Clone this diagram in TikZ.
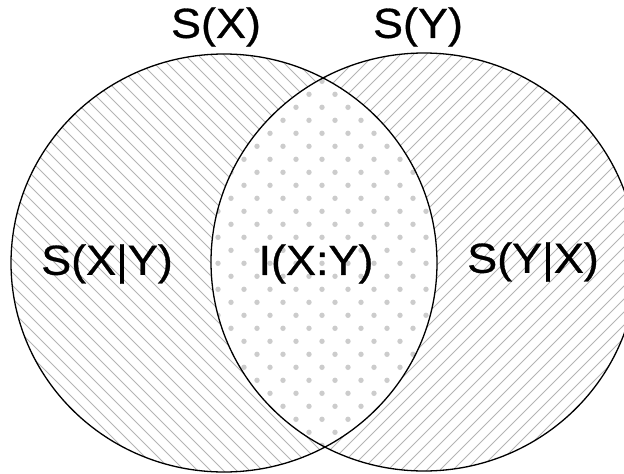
\documentclass[tikz,border=0pt]{standalone}
\usepackage{fontspec}
\setmainfont{Liberation Sans}
\newfontfamily\vennfont{Liberation Sans}[FakeBold=0.7]
\usepackage{tikz}
\definecolor{hatchgray}{RGB}{180,180,180}
\definecolor{dotgray}{RGB}{204,204,204}

\begin{document}
\begin{tikzpicture}[x=1pt, y=-1pt,
    setname/.style={font=\vennfont\fontsize{42}{42}\selectfont, xscale=1.07, inner sep=0pt},
    hatchline/.style={hatchgray, line width=0.8pt}]
      \useasboundingbox (0,0) rectangle (624,474);
      \begin{scope}
      \clip (0,0) rectangle (624,474);
      % Entropy sets as two slightly flattened discs
      \def\ellX{(224,263) circle [x radius=213, y radius=209]}
      \def\ellY{(424,262) circle [x radius=213, y radius=209]}
      % S(X|Y): left part, hatched
      \begin{scope}[even odd rule]
        \clip \ellX;
        \clip \ellY (-10,-10) rectangle (640,490);
        \foreach \a in {-598,-585,...,636}{
          \draw[hatchline] (\a,0) -- ++(600,600);
        }
      \end{scope}
      % S(Y|X): right part, hatched the other way
      \begin{scope}[even odd rule]
        \clip \ellY;
        \clip \ellX (-10,-10) rectangle (640,490);
        \foreach \a in {0,13,...,1236}{
          \draw[hatchline] (\a,0) -- ++(-600,600);
        }
      \end{scope}
      % I(X:Y): overlap, dotted
      \begin{scope}
        \clip \ellX;
        \clip \ellY;
        \foreach \j in {0,...,29}{
          \foreach \k in {-3,...,7}{
            \pgfmathsetmacro{\dx}{270+13*(1-mod(\j,2))+26*\k}
            \pgfmathsetmacro{\dy}{68.3+13*\j}
            \fill[dotgray] (\dx,\dy) circle (2.7);
          }
        }
      \end{scope}
      % Outlines
      \draw[line width=1.3pt] \ellX;
      \draw[line width=1.3pt] \ellY;
      \end{scope}
      % Labels
      \node[setname] (sx) at (216,27) {S(X)};
      \node[setname] (sy) at (418,27) {S(Y)};
      \node[setname] (sxy) at (107,264) {S(X|Y)};
      \node[setname] (ixy) at (316,264) {I(X:Y)};
      \node[setname] (syx) at (533,262) {S(Y|X)};
\end{tikzpicture}
\end{document}
